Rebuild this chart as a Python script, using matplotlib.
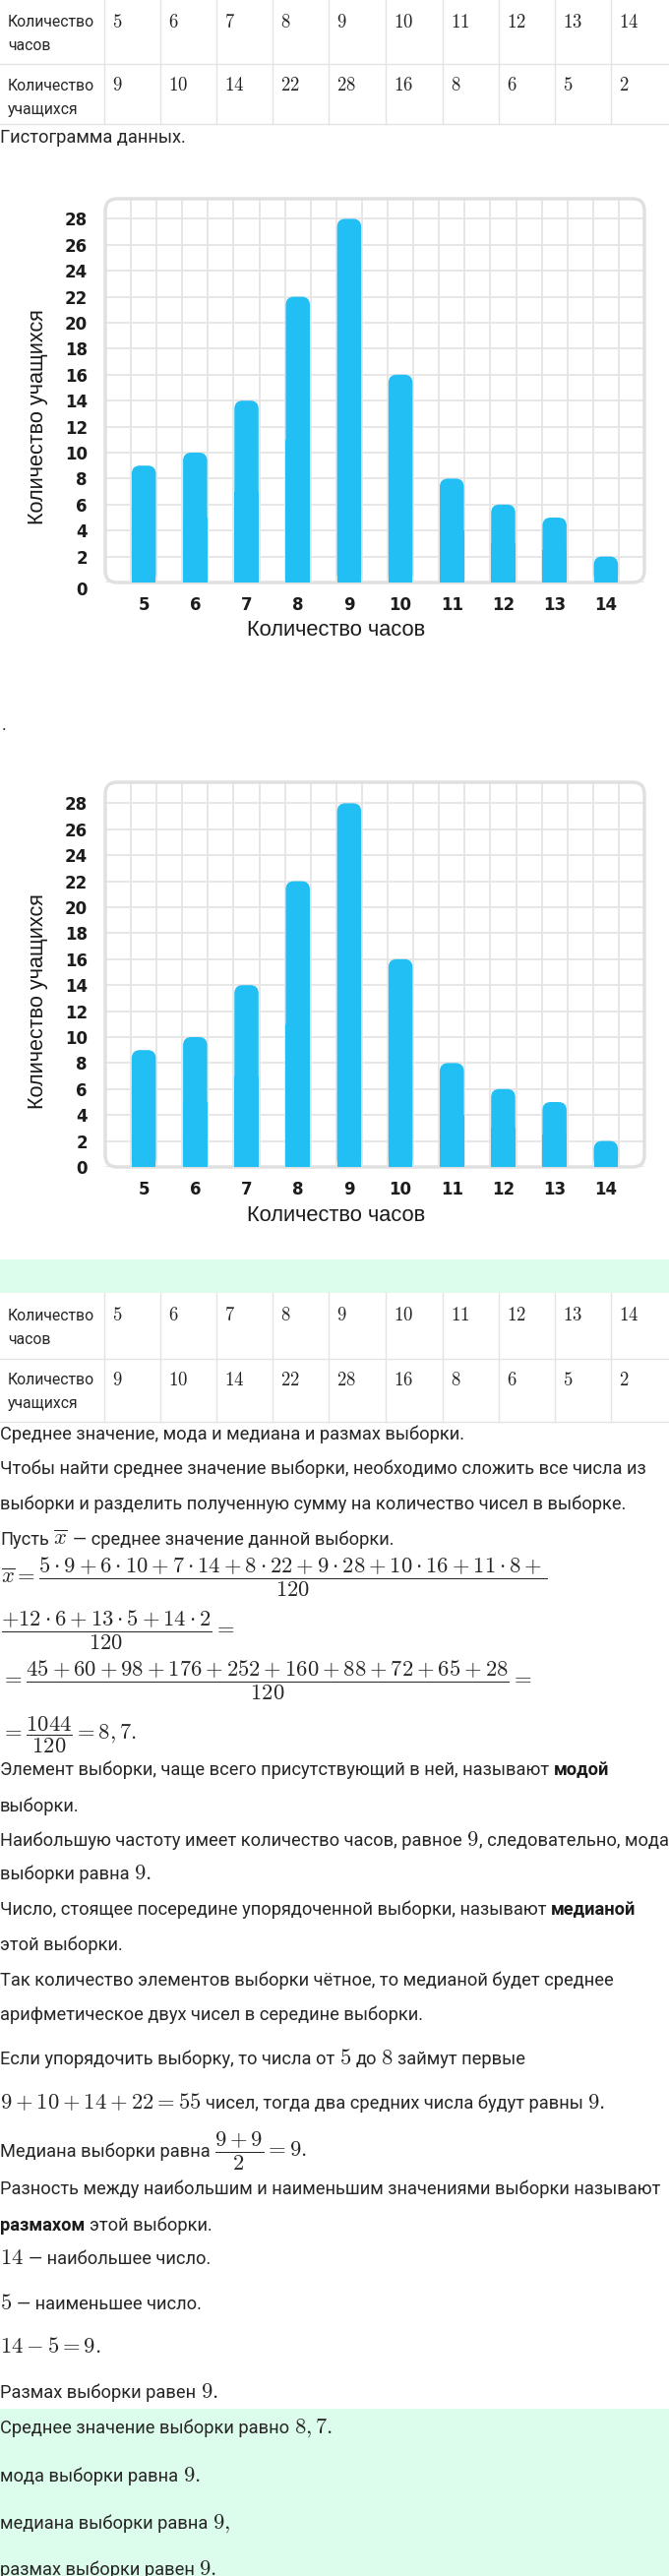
import numpy as np
import matplotlib
matplotlib.use("Agg")
import matplotlib.pyplot as plt
from matplotlib.patches import FancyBboxPatch, Rectangle
from matplotlib.lines import Line2D

# ---------------- data ----------------
hours = [5, 6, 7, 8, 9, 10, 11, 12, 13, 14]
students = [9, 10, 14, 22, 28, 16, 8, 6, 5, 2]
y_ticks = [0, 2, 4, 6, 8, 10, 12, 14, 16, 18, 20, 22, 24, 26, 28]
row1_label = ["Количество", "часов"]
row2_label = ["Количество", "учащихся"]
x_label = "Количество часов"
y_label = "Количество учащихся"

# ---------------- page setup ----------------
W, H = 680, 2618
plt.rcParams["mathtext.fontset"] = "cm"
fig = plt.figure(figsize=(W / 100, H / 100), dpi=100)
bg = fig.add_axes([0, 0, 1, 1])
bg.set_xlim(0, W)
bg.set_ylim(H, 0)
bg.axis("off")
renderer = fig.canvas.get_renderer()


def width_of(s, props):
    t = bg.text(0, 0, s, **props)
    bb = t.get_window_extent(renderer)
    t.remove()
    return bb.width


def fit(s, props, target):
    return props["size"] * target / width_of(s, props)


TXT = "#262626"
BODY = dict(family="Roboto", size=12.0, color=TXT)
BODY["size"] = fit("Чтобы найти среднее значение выборки, необходимо сложить все числа из", BODY, 652)
BOLD = dict(BODY, weight="bold", color="#1a1a1a")
ROWLAB = dict(family="Roboto", size=12.0, color=TXT)
ROWLAB["size"] = fit("Количество", ROWLAB, 88)
MATH = dict(size=15.0, color=TXT)
MATH["size"] = fit("$9+10+14+22=55$", MATH, 205)
FORM = dict(size=15.0, color=TXT)
FORM["size"] = fit(r"$\overline{x}=\dfrac{5\cdot9+6\cdot10+7\cdot14+8\cdot22+9\cdot28+10\cdot16+11\cdot8+}{120}$",
                   FORM, 556)
CELL = dict(size=13.5, color="#222")
LINE = "#e4e4e4"
GREEN = "#dcfcec"
BAR = "#21bff4"
GRID = "#e5e5e5"
STYLES = {"n": BODY, "b": BOLD, "m": MATH, "r": ROWLAB}

SPACE = width_of("н н", BODY) - width_of("нн", BODY)


def run(x, yc, segs):
    yb = yc + 5
    prev_space = False
    for i, (s, kind) in enumerate(segs):
        if i > 0 and (prev_space or s.startswith(" ")):
            x += SPACE
        prev_space = s.endswith(" ")
        t = bg.text(x, yb, s.strip(), ha="left", va="baseline", **STYLES[kind])
        x = t.get_window_extent(renderer).x1


# ---------------- tables ----------------
col_lines = [106, 163, 220, 277, 334, 392, 450, 507, 564, 621]


def table(top, mid, bottom, lab1_y, lab2_y):
    for yy in (mid, bottom):
        bg.add_line(Line2D([0, W], [yy, yy], color=LINE, lw=1))
    for xx in col_lines:
        bg.add_line(Line2D([xx, xx], [top, bottom], color=LINE, lw=1))
    run(8, lab1_y, [(row1_label[0], "r")])
    run(8, lab1_y + 24, [(row1_label[1], "r")])
    run(8, lab2_y, [(row2_label[0], "r")])
    run(8, lab2_y + 24, [(row2_label[1], "r")])
    for xx, h, s in zip(col_lines, hours, students):
        bg.text(xx + 8, lab1_y, f"${h}$", ha="left", va="center", **CELL)
        bg.text(xx + 8, lab2_y, f"${s}$", ha="left", va="center", **CELL)


table(-2, 65, 126, 22, 87)
bg.add_patch(Rectangle((0, 1280), W, 34, facecolor=GREEN, edgecolor="none"))
table(1314, 1381, 1445, 1337, 1402)

# ---------------- charts ----------------
L_PX, R_PX = 107, 655
PPY = 13.2
TICK = dict(family="DejaVu Sans", weight="bold", size=12, color="#1c1c1c")
LAB = dict(family="Liberation Sans", size=15.0, color="#1a1a1a")
XLAB_SIZE = fit(x_label, LAB, 183)
YLAB_SIZE = fit(y_label, LAB, 220)


def chart(top_px, zero_px, zero_shift):
    ax_w, ax_h = R_PX - L_PX, zero_px - top_px
    ax = fig.add_axes([L_PX / W, 1 - zero_px / H, ax_w / W, ax_h / H])
    ax.set_xlim(4.25, 14.75)
    ax.set_ylim(0, ax_h / PPY)
    for sp in ax.spines.values():
        sp.set_visible(False)
    ax.set_axisbelow(True)
    ax.set_xticks(hours)
    ax.set_xticklabels([str(h) for h in hours])
    ax.set_xticks(np.arange(4.75, 14.5, 0.5), minor=True)
    ax.set_yticks(y_ticks)
    ax.set_yticklabels(["" if (zero_shift and v == 0) else str(v) for v in y_ticks])
    ax.grid(True, which="minor", axis="x", color=GRID, lw=1.3)
    ax.grid(True, which="major", axis="y", color=GRID, lw=1.3)
    ax.tick_params(which="both", length=0)
    ax.tick_params(axis="y", pad=13)
    ax.tick_params(axis="x", pad=10)
    for lab in ax.get_xticklabels() + ax.get_yticklabels():
        lab.set_fontfamily(TICK["family"])
        lab.set_fontweight(TICK["weight"])
        lab.set_fontsize(TICK["size"])
        lab.set_color(TICK["color"])
    if zero_shift:
        ax.annotate("0", xy=(0, 0), xycoords=("axes fraction", "data"),
                    xytext=(-18, -zero_shift), textcoords="offset pixels",
                    ha="right", va="center_baseline", annotation_clip=False, **TICK)
    # rounded frame
    ax.add_patch(FancyBboxPatch((0, 0), 1, 1, boxstyle="round,pad=0,rounding_size=0.022",
                                mutation_aspect=ax_w / ax_h, transform=ax.transAxes,
                                facecolor="none", edgecolor="#e0e0e0", lw=2.5,
                                clip_on=False, zorder=1))
    # bars with rounded tops
    aspect = (ax_w / 10.5) / PPY
    bars = ax.bar(hours, students, width=0.47, color=BAR, zorder=3, linewidth=0)
    for b in bars:
        x0, w, h = b.get_x(), b.get_width(), b.get_height()
        ax.add_patch(FancyBboxPatch((x0, 0), w, h, boxstyle="round,pad=0,rounding_size=0.16",
                                    mutation_aspect=aspect, facecolor=BAR, edgecolor="none",
                                    zorder=3))
        b.set_height(h / 2)
    ax.set_xlabel(x_label, family=LAB["family"], size=XLAB_SIZE, color=LAB["color"])
    ax.set_ylabel(y_label, family=LAB["family"], size=YLAB_SIZE, color=LAB["color"])
    ax.xaxis.label.set_va("center")
    ax.yaxis.label.set_va("center")
    ax.xaxis.set_label_coords((342 - L_PX) / ax_w, -49 / ax_h)
    ax.yaxis.set_label_coords((39 - L_PX) / ax_w, 168 / ax_h)
    return ax


chart(202, 592, 6)
chart(795, 1186, 0)
bg.text(2, 742, ".", ha="left", va="baseline", **BODY)

# ---------------- text body ----------------
bg.add_patch(Rectangle((0, 2448), W, H - 2448, facecolor=GREEN, edgecolor="none"))

lines = [
    (140, [("Гистограмма данных.", "n")]),
    (1458, [("Среднее значение, мода и медиана и размах выборки.", "n")]),
    (1493, [("Чтобы найти среднее значение выборки, необходимо сложить все числа из", "n")]),
    (1529, [("выборки и разделить полученную сумму на количество чисел в выборке.", "n")]),
    (1565, [("Пусть ", "n"), (r"$\overline{x}$", "m"), (" — среднее значение данной выборки.", "n")]),
    (1799, [("Элемент выборки, чаще всего присутствующий в ней, называют ", "n"), ("модой", "b")]),
    (1836, [("выборки.", "n")]),
    (1871, [("Наибольшую частоту имеет количество часов, равное ", "n"), ("$9$", "m"),
            (", следовательно, мода", "n")]),
    (1905, [("выборки равна ", "n"), ("$9.$", "m")]),
    (1941, [("Число, стоящее посередине упорядоченной выборки, называют ", "n"), ("медианой", "b")]),
    (1977, [("этой выборки.", "n")]),
    (2013, [("Так количество элементов выборки чётное, то медианой будет среднее", "n")]),
    (2048, [("арифметическое двух чисел в середине выборки.", "n")]),
    (2093, [("Если упорядочить выборку, то числа от ", "n"), ("$5$", "m"), (" до ", "n"),
            ("$8$", "m"), (" займут первые", "n")]),
    (2138, [("$9+10+14+22=55$", "m"), (" чисел, тогда два средних числа будут равны ", "n"),
            ("$9.$", "m")]),
    (2187, [("Медиана выборки равна ", "n"), (r"$\dfrac{9+9}{2}=9.$", "m")]),
    (2225, [("Разность между наибольшим и наименьшим значениями выборки называют", "n")]),
    (2262, [("размахом", "b"), (" этой выборки.", "n")]),
    (2296, [("$14$", "m"), (" — наибольшее число.", "n")]),
    (2342, [("$5$", "m"), (" — наименьшее число.", "n")]),
    (2386, [("$14-5=9.$", "m")]),
    (2432, [("Размах выборки равен ", "n"), ("$9.$", "m")]),
    (2468, [("Среднее значение выборки равно ", "n"), ("$8,7.$", "m")]),
    (2517, [("мода выборки равна ", "n"), ("$9.$", "m")]),
    (2565, [("медиана выборки равна ", "n"), ("$9,$", "m")]),
    (2612, [("размах выборки равен ", "n"), ("$9.$", "m")]),
]
for yc, segs in lines:
    run(0, yc, segs)

formulas = [
    (1604, r"$\overline{x}=\dfrac{5\cdot9+6\cdot10+7\cdot14+8\cdot22+9\cdot28+10\cdot16+11\cdot8+}{120}$"),
    (1658, r"$\dfrac{+12\cdot6+13\cdot5+14\cdot2}{120}=$"),
    (1709, r"$=\dfrac{45+60+98+176+252+160+88+72+65+28}{120}=$"),
    (1763, r"$=\dfrac{1044}{120}=8,7.$"),
]
for ybar, f in formulas:
    bg.text(1, ybar + 5, f, ha="left", va="baseline", **FORM)

fig.savefig("out.png", dpi=100)
